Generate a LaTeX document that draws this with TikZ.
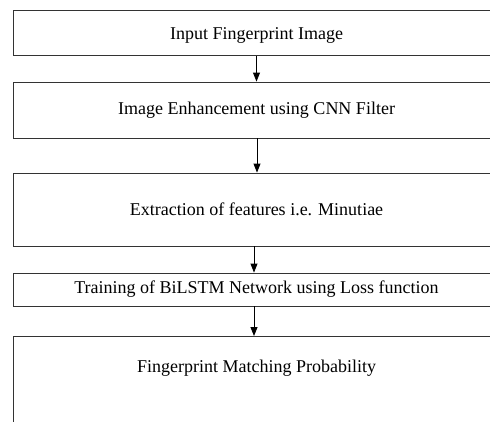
\documentclass[tikz,border=0pt]{standalone}
\usepackage{fontspec}
\setmainfont{Liberation Serif}
\usetikzlibrary{arrows.meta}
\begin{document}
\begin{tikzpicture}[x=1pt,y=-1pt,
  stepbox/.style={draw=black!80,line width=0.9pt,rectangle,inner sep=0pt,
    minimum width=487pt,font=\fontsize{18}{20}\selectfont,anchor=center},
  flow/.style={draw=black,line width=0.9pt,-{Triangle[length=9pt,width=7pt]}}]
\useasboundingbox (0,0) rectangle (490,421);
\clip (0,0) rectangle (490,421);
\fill[white] (0,0) rectangle (490,421);
\node[stepbox,text height=29pt,text depth=16pt,anchor=north] (b1) at (256.5,10) {Input Fingerprint Image};
\node[stepbox,minimum height=56pt] (b2) at (256.5,110) {Image Enhancement using CNN Filter};
\node[stepbox,minimum height=73pt] (b3) at (256.5,209.5) {Extraction of features i.e. Minutiae};
\node[stepbox,minimum height=33pt] (b4) at (256.5,289.5) {Training of BiLSTM Network using Loss function};
\node[stepbox,text height=36pt,text depth=70pt,anchor=north] (b5) at (256.5,336) {Fingerprint Matching Probability};
\draw[flow] (b1.south) -- (b2.north);
\draw[flow] ([xshift=0.5pt]b2.south) -- ([xshift=0.5pt]b3.north);
\draw[flow] ([xshift=-2.5pt]b3.south) -- ([xshift=-2.5pt]b4.north);
\draw[flow] ([xshift=-2.5pt]b4.south) -- ([xshift=-2.5pt]b5.north);
\end{tikzpicture}
\end{document}
